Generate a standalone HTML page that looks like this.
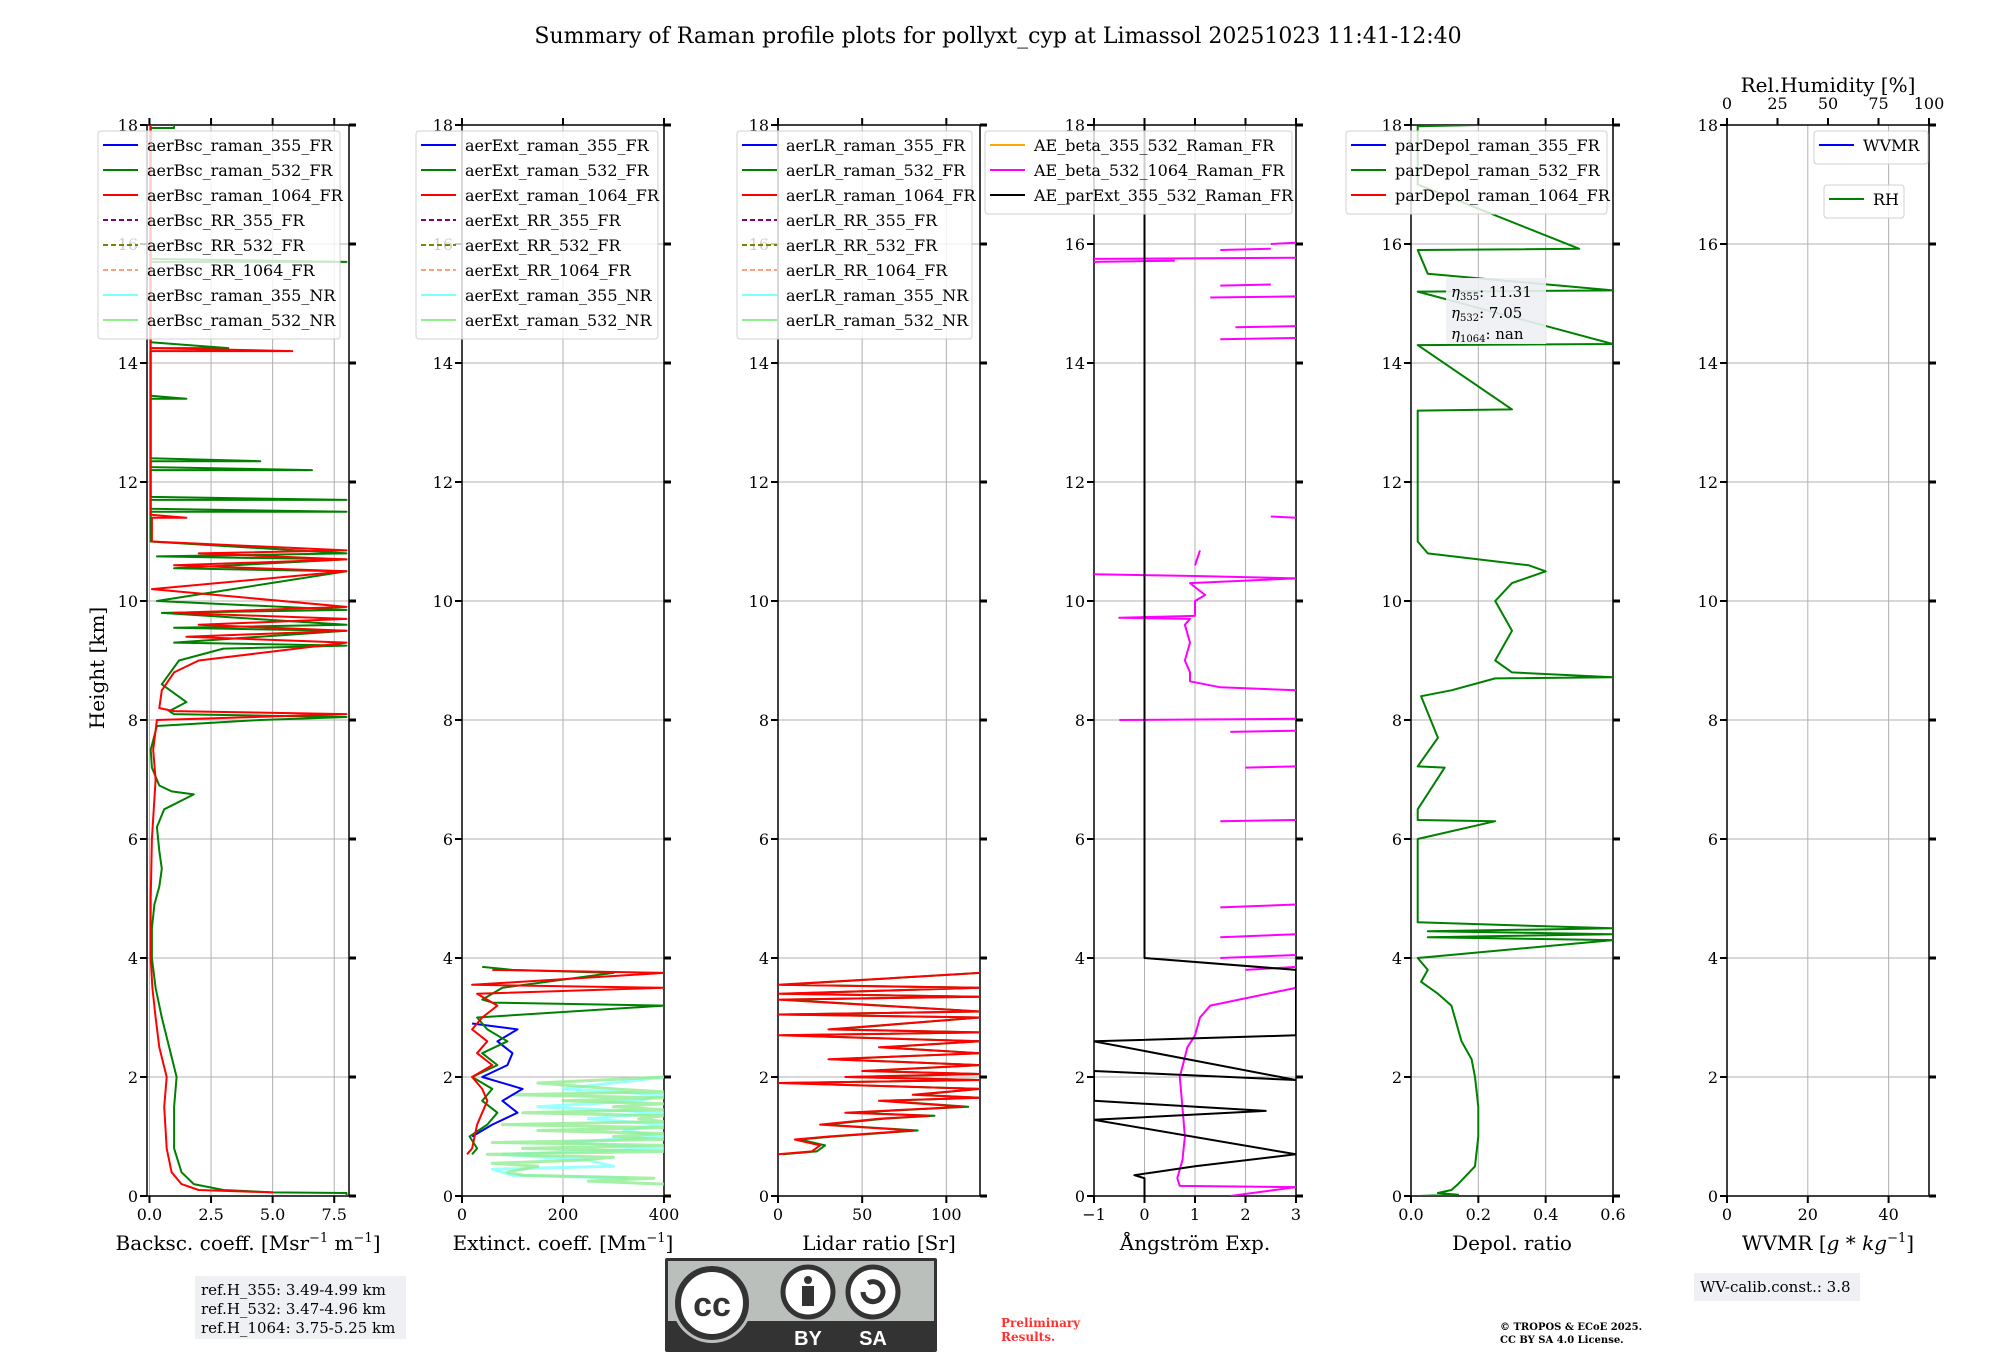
<!DOCTYPE html>
<html><head><meta charset="utf-8">
<style>
body{margin:0;background:#fff;}
svg{display:block;font-family:"DejaVu Serif","Liberation Serif",serif;}
</style></head>
<body>
<svg id="fig" width="2000" height="1360" viewBox="0 0 2000 1360" xmlns="http://www.w3.org/2000/svg">
<text x="998" y="43" font-size="22" text-anchor="middle">Summary of Raman profile plots for pollyxt_cyp at Limassol 20251023 11:41-12:40</text>
<g id="panels"></g>
<g>
<rect x="195" y="1276" width="211" height="63" fill="#eef0f4"/>
<text x="201" y="1295" font-size="15">ref.H_355: 3.49-4.99 km</text>
<text x="201" y="1314" font-size="15">ref.H_532: 3.47-4.96 km</text>
<text x="201" y="1333" font-size="15">ref.H_1064: 3.75-5.25 km</text>
</g>
<g>
<rect x="665" y="1258" width="272" height="94" fill="#333" rx="2"/>
<rect x="668" y="1261" width="266" height="60" fill="#bbbfbb"/>
<circle cx="712" cy="1303" r="40" fill="#bbbfbb"/>
<circle cx="712" cy="1303" r="34" fill="#fff" stroke="#333" stroke-width="6"/>
<text x="712" y="1316" font-family="Liberation Sans,sans-serif" font-weight="bold" font-size="34" text-anchor="middle" fill="#333">cc</text>
<circle cx="808" cy="1292" r="25" fill="#fff" stroke="#333" stroke-width="5"/>
<circle cx="808" cy="1280" r="4" fill="#333"/><rect x="802" y="1286" width="12" height="20" fill="#333"/>
<circle cx="873" cy="1292" r="25" fill="#fff" stroke="#333" stroke-width="5"/>
<path d="M863 1292 a10 10 0 1 0 5 -9" fill="none" stroke="#333" stroke-width="5"/>
<text x="808" y="1345" font-family="Liberation Sans,sans-serif" font-weight="bold" font-size="20" text-anchor="middle" fill="#fff">BY</text>
<text x="873" y="1345" font-family="Liberation Sans,sans-serif" font-weight="bold" font-size="20" text-anchor="middle" fill="#fff">SA</text>
</g>
<text x="1001" y="1327" font-size="12" font-weight="bold" fill="#ff3030">Preliminary</text>
<text x="1001" y="1341" font-size="12" font-weight="bold" fill="#ff3030">Results.</text>
<text x="1500" y="1330" font-size="10" font-weight="bold">© TROPOS &amp; ECoE 2025.</text>
<text x="1500" y="1343" font-size="10" font-weight="bold">CC BY SA 4.0 License.</text>
<g>
<rect x="1694" y="1273" width="166" height="28" fill="#eef0f4"/>
<text x="1700" y="1292" font-size="15">WV-calib.const.: 3.8</text>
</g>
</svg>
<script>
// ---------- data ----------
const bsc532H=[0,0.05,0.06,0.1,0.2,0.4,0.8,1.5,2.0,2.5,3.0,3.5,4.0,4.5,4.9,5.2,5.5,5.8,6.2,6.5,6.75,6.8,6.9,7.2,7.5,7.9,8.0,8.05,8.1,8.15,8.3,8.6,9.0,9.2,9.25,9.3,9.5,9.55,9.6,9.8,9.85,10.0,10.5,10.55,10.7,10.75,10.8,11.0,11.5,11.5,11.55,11.7,11.7,11.75,12.2,12.2,12.25,12.35,12.35,12.4,13.4,13.4,13.45,14.25,14.25,14.35,15.7,15.7,15.75,17.95,17.95,18];
const bsc532V=[8,8,5,3,1.8,1.3,1.0,1.0,1.1,0.8,0.5,0.25,0.1,0.1,0.2,0.4,0.5,0.4,0.3,0.6,1.8,0.9,0.4,0.1,0.05,0.3,4.5,8,1,0.8,1.5,0.5,1.2,3,8,1,8,1,8,0.5,8,0.3,8,1,8,0.3,8,0.05,0.05,8,0.05,0.05,8,0.05,0.05,6.6,0.05,0.05,4.5,0.05,0.05,1.5,0.05,0.05,3.2,0.05,0.05,8,0.05,0.05,1,1];
const bsc1064H=[0.05,0.06,0.1,0.2,0.4,0.8,1.5,2.0,2.5,3.0,3.5,4,5,6,7,7.5,8.0,8.1,8.15,8.2,8.5,8.8,9.0,9.3,9.4,9.5,9.6,9.7,9.8,9.9,10.2,10.5,10.6,10.7,10.8,10.85,11.0,11.4,11.4,11.45,14.2,14.2,14.25,18];
const bsc1064V=[5,5,2,1.3,0.9,0.7,0.6,0.7,0.4,0.25,0.12,0.05,0.05,0.1,0.25,0.15,0.3,8,1,0.4,0.5,1,2,8,1.5,8,2,8,1,8,0.1,8,1,8,2,8,0.1,0.1,1.5,0.05,0.05,5.8,0.05,0.05];
const ext532NRH=[0.2,0.25,0.3,0.35,0.4,0.5,0.55,0.6,0.65,0.7,0.75,0.8,0.85,0.9,0.95,1.0,1.05,1.1,1.15,1.2,1.25,1.3,1.35,1.4,1.45,1.5,1.55,1.6,1.65,1.7,1.75,1.8,1.9,2.0];
const ext532NRV=[400,250,380,120,90,150,60,230,300,50,400,120,400,60,400,300,400,150,400,80,400,350,400,120,400,300,400,200,400,100,400,300,150,400];
const ext355NRH=[0.3,0.35,0.45,0.5,0.6,0.7,0.8,0.9,1.0,1.1,1.2,1.3,1.4,1.5,1.6,1.7,1.8,2.0];
const ext355NRV=[330,100,60,300,250,80,400,200,400,320,400,250,400,150,350,400,200,400];
const ext355H=[1.0,1.2,1.4,1.6,1.8,2.0,2.2,2.4,2.6,2.8,2.9];
const ext355V=[20,60,110,80,120,40,90,100,70,110,20];
const ext532H=[0.7,0.8,1.0,1.2,1.4,1.6,1.8,2.0,2.2,2.4,2.6,2.8,3.0,3.2,3.25,3.3,3.5,3.75,3.8,3.85];
const ext532V=[20,30,15,50,70,40,60,20,70,40,90,50,30,400,60,40,80,300,100,40];
const ext1064H=[0.7,0.8,1.0,1.2,1.4,1.6,1.8,2.0,2.2,2.4,2.6,2.8,3.0,3.2,3.4,3.5,3.55,3.75,3.8];
const ext1064V=[10,20,25,30,40,50,40,20,60,30,50,20,40,70,30,400,20,400,60];
const lrH=[0.7,0.75,0.85,0.95,1.0,1.1,1.2,1.3,1.35,1.4,1.5,1.6,1.65,1.7,1.8,1.9,1.95,2.0,2.05,2.1,2.2,2.3,2.4,2.5,2.6,2.7,2.75,2.8,3.0,3.05,3.1,3.3,3.35,3.4,3.5,3.55,3.75];
const lrV=[0,20,25,10,30,80,25,60,90,40,110,60,120,80,120,0,120,40,120,50,120,30,120,60,120,0,120,30,120,0,120,0,120,0,120,0,120];
const aeExtH=[0,0.3,0.35,0.4,0.5,0.7,1.28,1.43,1.6,2.1,1.95,2.6,2.7,3.8,4.0,4.05,18];
const aeExtV=[0,0,-0.2,0.2,1,3,-1,2.4,-1,-1,3,-1,3,3,0,0,0];
const aeBetaH=[0,0.15,0.17,0.3,0.6,1,1.5,2,2.5,2.7,3.0,3.2,3.5,null,3.8,3.85,null,4.0,4.05,null,4.35,4.4,null,4.85,4.9,null,6.3,6.32,null,7.2,7.22,null,7.8,7.82,null,8.0,8.02,null,8.5,8.55,8.65,8.8,9.0,9.3,9.6,9.7,9.72,9.75,10.0,10.1,10.3,10.38,10.42,10.45,null,10.6,10.85,null,11.4,11.42,null,14.4,14.42,null,14.6,14.62,null,15.1,15.12,null,15.3,15.32,null,15.7,15.72,null,15.75,15.77,null,15.9,15.92,null,16.0,16.02];
const aeBetaV=[1.7,3,0.7,0.65,0.75,0.8,0.75,0.7,0.85,1.0,1.1,1.3,3,null,2.0,3,null,1.5,3,null,1.5,3,null,1.5,3,null,1.5,3,null,2.0,3,null,1.7,3,null,-0.5,3,null,3,1.5,0.9,0.9,0.8,0.9,0.8,0.9,-0.5,1.0,1.0,1.2,0.9,3,1.0,-1,null,1.0,1.1,null,3,2.5,null,1.5,3,null,1.8,3,null,1.3,3,null,1.5,2.5,null,-1,0.6,null,-1,3,null,1.5,2.5,null,2.5,3];
const depolH=[0,0.02,0.05,0.1,0.2,0.5,1.0,1.5,2.0,2.3,2.6,3.0,3.2,3.4,3.6,3.8,4.0,4.3,4.35,4.4,4.45,4.5,4.6,5.0,6.0,6.3,6.32,6.5,7.2,7.22,7.7,8.4,8.5,8.7,8.72,8.8,9.0,9.5,10.0,10.3,10.5,10.6,10.8,11.0,12.0,13.2,13.22,14.3,14.32,15.2,15.22,15.5,15.9,15.92,17.0,17.98,18];
const depolV=[0.02,0.14,0.08,0.12,0.14,0.19,0.2,0.2,0.19,0.18,0.15,0.13,0.12,0.08,0.03,0.05,0.02,0.6,0.05,0.6,0.05,0.6,0.02,0.02,0.02,0.25,0.02,0.02,0.1,0.02,0.08,0.03,0.12,0.25,0.6,0.3,0.25,0.3,0.25,0.3,0.4,0.35,0.05,0.02,0.02,0.02,0.3,0.02,0.6,0.02,0.6,0.05,0.02,0.5,0.02,0.02,0.2];
const yTicks=[0,2,4,6,8,10,12,14,16,18];
const ticks1=[0,2.5,5,7.5], tickLab1=["0.0","2.5","5.0","7.5"];
const ticks2=[0,200,400], ticks3=[0,50,100], ticks4=[-1,0,1,2,3];
const ticks5=[0,0.2,0.4,0.6], tickLab5=["0.0","0.2","0.4","0.6"];
const ticks6=[0,20,40], rhTicks=[0,25,50,75,100];
// ---------- drawing ----------
const NS="http://www.w3.org/2000/svg";
const root=document.getElementById('panels');
const TOP=125,BOT=1196,PW=202;
function mk(tag,at,par){const e=document.createElementNS(NS,tag);for(const k in at)e.setAttribute(k,at[k]);(par||root).appendChild(e);return e;}
const yS=h=>BOT-(h/18)*(BOT-TOP);
function panel(i,left,xmin,xmax,ticks,labs,xlabel){
  const g=mk('g',{});
  
  
  const xS=v=>left+(v-xmin)/(xmax-xmin)*PW;
  yTicks.forEach(t=>{const l=mk('line',{x1:left,x2:left+PW,y1:yS(t),y2:yS(t),stroke:'#b0b0b0','stroke-width':1},g);
    const tk=mk('line',{x1:left-7,x2:left,y1:yS(t),y2:yS(t),stroke:'#000','stroke-width':2},g);
    const tr=mk('line',{x1:left+PW,x2:left+PW+7,y1:yS(t),y2:yS(t),stroke:'#000','stroke-width':3},g);
    const tx=mk('text',{x:left-9,y:yS(t)+6,'font-size':16,'text-anchor':'end'},g);tx.textContent=t;});
  ticks.forEach((t,j)=>{const l=mk('line',{x1:xS(t),x2:xS(t),y1:TOP,y2:BOT,stroke:'#b0b0b0','stroke-width':1},g);
    const tk=mk('line',{x1:xS(t),x2:xS(t),y1:BOT,y2:BOT+7,stroke:'#000','stroke-width':2},g);
    if(i!==6){const tt=mk('line',{x1:xS(t),x2:xS(t),y1:TOP-7,y2:TOP,stroke:'#000','stroke-width':2},g);}
    const tx=mk('text',{x:xS(t),y:BOT+24,'font-size':16,'text-anchor':'middle'},g);tx.textContent=labs?labs[j]:(t<0?'\u2212'+(-t):t);});
  const fr=mk('rect',{x:left,y:TOP,width:PW,height:BOT-TOP,fill:'none',stroke:'#000','stroke-width':1.5},g);
  const xl=mk('text',{x:left+PW/2,y:1250,'font-size':20,'text-anchor':'middle'},g);xl.innerHTML=xlabel;
  const cid='clip'+i;const cp=mk('clipPath',{id:cid},g);mk('rect',{x:left,y:TOP,width:PW,height:BOT-TOP},cp);
  const dg=mk('g',{'clip-path':'url(#'+cid+')'},g);
  return {g,dg,xS};
}
function series(P,H,V,color,w,name,op){
  const segs=[[]];
  H.forEach((h,k)=>{if(h===null||V[k]===null){segs.push([]);return;}segs[segs.length-1].push(P.xS(V[k]).toFixed(1)+','+yS(h).toFixed(1));});
  const d=segs.filter(s=>s.length>1).map(s=>'M'+s.join(' L')).join(' ');
  const p=mk('path',{d:d,fill:'none',stroke:color,'stroke-width':w,'stroke-linejoin':'round',opacity:op||1},P.dg);
  }
function legend(P,x,y,w,entries,gap){const h=entries.length*gap+8;
  const r=mk('rect',{x:x,y:y,width:w,height:h,fill:'#fff','fill-opacity':0.8,stroke:'#d0d0d0',rx:3},P.g);
  entries.forEach((e,k)=>{const cy=y+14+k*gap;
    const l=mk('line',{x1:x+5,x2:x+40,y1:cy,y2:cy,stroke:e[1],'stroke-width':2,'stroke-dasharray':e[2]?'5,3':'none'},P.g);
    const t=mk('text',{x:x+49,y:cy+6,'font-size':16},P.g);t.textContent=e[0];});}
const L=[147,462,778,1094,1411,1727];
// Panel 1
const P1=panel(1,L[0],-0.1,8.1,ticks1,tickLab1,'Backsc. coeff. [Msr<tspan dy="-8" font-size="13">−1</tspan><tspan dy="8"> m</tspan><tspan dy="-8" font-size="13">−1</tspan><tspan dy="8">]</tspan>');
series(P1,bsc532H,bsc532V,'#008000',2,'bsc-532-line');
series(P1,bsc1064H,bsc1064V,'#ff0000',2,'bsc-1064-line');
const nm=(n)=>[[n+'_raman_355_FR','#0000ff'],[n+'_raman_532_FR','#008000'],[n+'_raman_1064_FR','#ff0000'],[n+'_RR_355_FR','#800080',1],[n+'_RR_532_FR','#808000',1],[n+'_RR_1064_FR','#ffa07a',1],[n+'_raman_355_NR','#7fffff'],[n+'_raman_532_NR','#90ee90']];
legend(P1,98,131,242,nm('aerBsc'),25);
const hl=mk('text',{x:104,y:668,'font-size':20,'text-anchor':'middle',transform:'rotate(-90 104 668)'});hl.textContent='Height [km]';


// Panel 2
const P2=panel(2,L[1],0,400,ticks2,null,'Extinct. coeff. [Mm<tspan dy="-8" font-size="13">−1</tspan><tspan dy="8">]</tspan>');
series(P2,ext355NRH,ext355NRV,'#7fffff',3,'ext-355-nr-line',0.8);
series(P2,ext532NRH,ext532NRV,'#90ee90',3,'ext-532-nr-line',0.8);
series(P2,ext355H,ext355V,'#0000ff',2,'ext-355-line');
series(P2,ext532H,ext532V,'#008000',2,'ext-532-line');
series(P2,ext1064H,ext1064V,'#ff0000',2,'ext-1064-line');
legend(P2,416,131,242,nm('aerExt'),25);
// Panel 3
const P3=panel(3,L[2],0,120,ticks3,null,'Lidar ratio [Sr]');
series(P3,lrH,lrV.map(v=>Math.min(120,v+3)),'#008000',2,'lr-532-line');
series(P3,lrH,lrV,'#ff0000',2,'lr-1064-line');
legend(P3,737,131,235,nm('aerLR'),25);
// Panel 4
const P4=panel(4,L[3],-1,3,ticks4,null,'Ångström Exp.');
series(P4,aeBetaH,aeBetaV,'#ff00ff',2,'ae-beta-532-1064-line');
series(P4,aeExtH,aeExtV,'#000000',2,'ae-parext-355-532-line');
legend(P4,985,131,307,[['AE_beta_355_532_Raman_FR','#ffa500'],['AE_beta_532_1064_Raman_FR','#ff00ff'],['AE_parExt_355_532_Raman_FR','#000000']],25);
// Panel 5
const P5=panel(5,L[4],0,0.6,ticks5,tickLab5,'Depol. ratio');
series(P5,depolH,depolV,'#008000',2,'pardepol-532-line');
legend(P5,1346,131,261,[['parDepol_raman_355_FR','#0000ff'],['parDepol_raman_532_FR','#008000'],['parDepol_raman_1064_FR','#ff0000']],25);
const eb=mk('rect',{x:1446,y:278,width:100,height:66,fill:'#eef0f4',opacity:0.9});


[['355','11.31'],['532','7.05'],['1064','nan']].forEach((e,k)=>{const t=mk('text',{x:1451,y:297+k*21,'font-size':15});t.innerHTML='<tspan font-style="italic">η</tspan><tspan font-size="10" dy="3">'+e[0]+'</tspan><tspan dy="-3">: '+e[1]+'</tspan>';

});
// Panel 6
const P6=panel(6,L[5],0,50,ticks6,null,'WVMR [<tspan font-style="italic">g</tspan> * <tspan font-style="italic">kg</tspan><tspan dy="-8" font-size="13">−1</tspan><tspan dy="8">]</tspan>');
const rhS=v=>L[5]+v/100*PW;
rhTicks.forEach(t=>{const l=mk('line',{x1:rhS(t),x2:rhS(t),y1:TOP-7,y2:TOP,stroke:'#000','stroke-width':2},P6.g);


const tx=mk('text',{x:rhS(t),y:109,'font-size':16,'text-anchor':'middle'},P6.g);tx.textContent=t;

});
const rt=mk('text',{x:1828,y:92,'font-size':20,'text-anchor':'middle'},P6.g);rt.textContent='Rel.Humidity [%]';


legend(P6,1814,131,114,[['WVMR','#0000ff']],25);
legend(P6,1824,185,80,[['RH','#008000']],25);
</script>
</body></html>
